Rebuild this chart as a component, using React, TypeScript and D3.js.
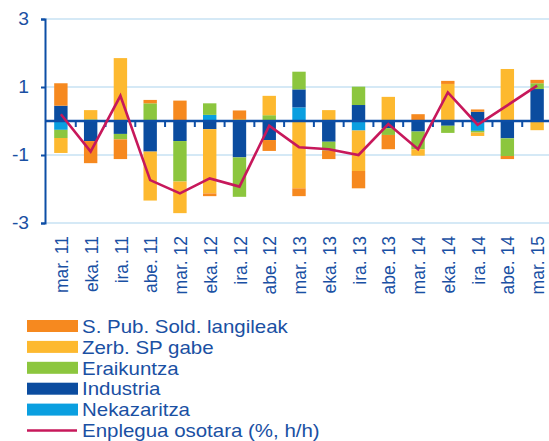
import * as d3 from "d3";
import { useEffect, useRef } from "react";

const categories = [
  "mar. 11", "eka. 11", "ira. 11", "abe. 11", "mar. 12", "eka. 12", "ira. 12", "abe. 12",
  "mar. 13", "eka. 13", "ira. 13", "abe. 13", "mar. 14", "eka. 14", "ira. 14", "abe. 14", "mar. 15",
];

// sector contributions (p.p.)
const nekazaritza = [-0.26, 0, 0, 0, 0, 0.18, 0, 0, 0.4, 0, -0.28, 0, 0, 0, -0.29, 0, 0];
const industria = [0.45, -0.59, -0.38, -0.9, -0.59, -0.24, -1.07, -0.56, 0.53, -0.61, 0.47, -0.21, -0.31, -0.14, 0.27, -0.51, 0.94];
const eraikuntza = [-0.24, 0.05, -0.16, 0.52, -1.19, 0.34, -1.16, 0.17, 0.52, -0.26, 0.54, -0.2, -0.52, -0.21, -0.05, -0.52, 0.17];
const zerbitzuak = [-0.44, 0.27, 1.85, -1.44, -0.93, -1.89, 0.06, 0.57, -1.98, 0.32, -1.19, 0.71, -0.19, 1.09, -0.1, 1.53, -0.27];
const sPublikoa = [0.66, -0.65, -0.58, 0.1, 0.6, -0.08, 0.25, -0.32, -0.23, -0.25, -0.51, -0.42, 0.2, 0.09, 0.07, -0.09, 0.1];
const enplegua = [0.2, -0.9, 0.74, -1.74, -2.13, -1.69, -1.93, -0.14, -0.77, -0.83, -1.0, -0.09, -0.83, 0.84, -0.11, 0.46, 1.04];

const yTicks = [3, 1, -1, -3];

const series = [
  { key: "nek", name: "Nekazaritza", values: nekazaritza, color: "#0a9fe0" },
  { key: "ind", name: "Industria", values: industria, color: "#0b4c9f" },
  { key: "era", name: "Eraikuntza", values: eraikuntza, color: "#8cc63e" },
  { key: "zer", name: "Zerb. SP gabe", values: zerbitzuak, color: "#fdb92f" },
  { key: "spu", name: "S. Pub. Sold. langileak", values: sPublikoa, color: "#f6891f" },
];
const lineName = "Enplegua osotara (%, h/h)";
const lineColor = "#c7185b";
const textColor = "#1a50a3";
const axisColor = "#0d4ea6";
const gridColor = "#d5e9f6";

export default function App() {
  const ref = useRef<SVGSVGElement | null>(null);

  useEffect(() => {
    if (!ref.current) return;
    const svg = d3.select(ref.current);
    svg.selectAll("*").remove();
    const font = "'Liberation Sans', Arial, sans-serif";
    const stretch = 1.1; // glyphs in the original are a bit wide

    const x = d3.scaleBand().domain(categories).range([46, 552]).paddingInner(0.55).paddingOuter(0.275);
    const y = d3.scaleLinear().domain([-3, 3]).range([223, 19]);

    // grid
    svg.append("g")
      .selectAll("line")
      .data(yTicks)
      .join("line")
      .attr("x1", 45)
      .attr("x2", 549)
      .attr("y1", (d) => y(d))
      .attr("y2", (d) => y(d))
      .attr("stroke", gridColor)
      .attr("stroke-width", 2);

    // stacked bars
    const rows = categories.map((c, i) => {
      const r: Record<string, number | string> = { cat: c };
      series.forEach((s) => (r[s.key] = s.values[i]));
      return r;
    });
    const stack = d3.stack<Record<string, number | string>>()
      .keys(series.map((s) => s.key))
      .value((d, k) => d[k] as number)
      .offset(d3.stackOffsetDiverging);
    const stacked = stack(rows);

    svg.append("g")
      .selectAll("g")
      .data(stacked)
      .join("g")
      .attr("fill", (_d, i) => series[i].color)
      .selectAll("rect")
      .data((d) => d)
      .join("rect")
      .attr("x", (d) => x(d.data.cat as string) ?? 0)
      .attr("width", x.bandwidth())
      .attr("y", (d) => y(Math.max(d[0], d[1])))
      .attr("height", (d) => Math.abs(y(d[0]) - y(d[1])));

    // y axis
    const yAxis = svg.append("g")
      .attr("transform", "translate(45,0)")
      .call(d3.axisLeft(y).tickValues(yTicks).tickSize(4).tickPadding(12).tickFormat((v) => String(v)));
    yAxis.select(".domain").attr("stroke", axisColor).attr("stroke-width", 2);
    yAxis.selectAll(".tick line").attr("stroke", axisColor).attr("stroke-width", 2);
    yAxis.selectAll("text")
      .attr("x", -16 / stretch)
      .attr("transform", `scale(${stretch},1)`)
      .attr("fill", textColor)
      .style("font-size", "17.5px")
      .style("font-family", font);

    // zero line with category ticks
    svg.append("line")
      .attr("x1", 45)
      .attr("x2", 549)
      .attr("y1", y(0))
      .attr("y2", y(0))
      .attr("stroke", axisColor)
      .attr("stroke-width", 2.5);
    const step = x.step();
    svg.append("g")
      .selectAll("line")
      .data(d3.range(1, categories.length + 1))
      .join("line")
      .attr("x1", (i) => 46 + i * step)
      .attr("x2", (i) => 46 + i * step)
      .attr("y1", y(0))
      .attr("y2", y(0) + 6)
      .attr("stroke", axisColor)
      .attr("stroke-width", 2);

    // total employment line
    const line = d3.line<number>()
      .x((_d, i) => (x(categories[i]) ?? 0) + x.bandwidth() / 2)
      .y((d) => y(d));
    svg.append("path")
      .datum(enplegua)
      .attr("d", line)
      .attr("fill", "none")
      .attr("stroke", lineColor)
      .attr("stroke-width", 2.6)
      .attr("stroke-linejoin", "miter");

    // x labels
    svg.append("g")
      .selectAll("text")
      .data(categories)
      .join("text")
      .attr("transform", (d) => `translate(${(x(d) ?? 0) + x.bandwidth() / 2 + 1},236) rotate(-90)`)
      .attr("dy", "0.35em")
      .attr("text-anchor", "end")
      .attr("fill", textColor)
      .style("font-size", "17.5px")
      .style("font-family", font)
      .text((d) => d);

    // legend
    const legendItems = [
      ...series.slice().reverse().map((s) => ({ name: s.name, color: s.color, line: false })),
      { name: lineName, color: lineColor, line: true },
    ];
    const lg = svg.append("g");
    legendItems.forEach((it, i) => {
      const cy = 326 + i * 20.9;
      if (it.line) {
        lg.append("line")
          .attr("x1", 27)
          .attr("x2", 77)
          .attr("y1", cy)
          .attr("y2", cy)
          .attr("stroke", it.color)
          .attr("stroke-width", 2.5);
      } else {
        lg.append("rect").attr("x", 27).attr("y", cy - 6).attr("width", 51).attr("height", 12).attr("fill", it.color);
      }
      lg.append("text")
        .attr("transform", `translate(82,${cy}) scale(${stretch},1)`)
        .attr("dy", "0.36em")
        .attr("fill", textColor)
        .style("font-size", "18.6px")
        .style("font-family", font)
        .text(it.name);
    });
  }, []);

  return (
    <svg
      ref={ref}
      width={549}
      height={441}
      style={{ position: "fixed", left: 0, top: 0, background: "#fff", display: "block" }}
    />
  );
}
